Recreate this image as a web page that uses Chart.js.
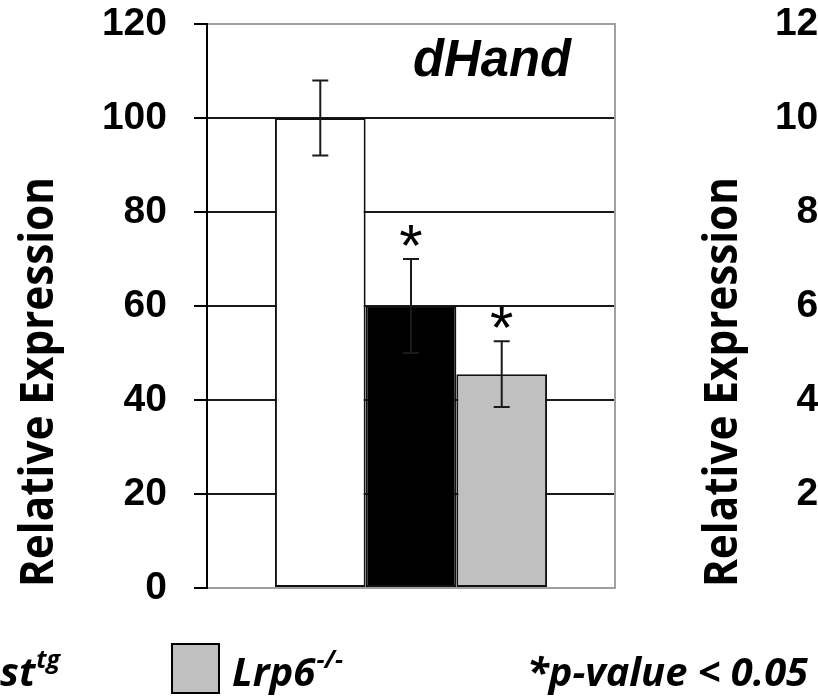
<!DOCTYPE html>
<html>
<head>
<meta charset="utf-8">
<script src="https://cdn.jsdelivr.net/npm/chart.js@4.4.1/dist/chart.umd.min.js"></script>
<style>
  html, body { margin: 0; padding: 0; background: #fff; overflow: hidden; width: 818px; height: 698px; }
  .wrap { position: absolute; top: 0; width: 818px; height: 698px; }
  #wrap-main { left: 0; }
  #wrap-next { left: 673px; }
</style>
</head>
<body>
<div class="wrap" id="wrap-main"><canvas id="chart-main"></canvas></div>
<div class="wrap" id="wrap-next"><canvas id="chart-next"></canvas></div>
<script>
// ===== data =====
const CATEGORIES = ["dHand"];
const SERIES_LABELS = ["Control", "st tg", "Lrp6-/-"];
const SERIES_COLORS = ["#ffffff", "#000000", "#c0c0c0"];
const MEANS = [100, 60, 45.5];
const ERRORS = [8, 10, 7];
const SIGNIFICANT = [false, true, true];
const Y_MIN = 0;
const Y_MAX = 120;
const Y_STEP = 20;
const Y_TITLE = "Relative Expression";
const GENE = "dHand";
const LEGEND_TEXT = ["st", "Lrp6"];
const LEGEND_SUP = ["tg", "-/-"];
const LEGEND_COLORS = ["#000000", "#c0c0c0"];
const NOTE = "*p-value < 0.05";

const NUM_FONT = "'Liberation Sans', Arial, sans-serif";
const CAL_FONT = "'Open Sans', 'Noto Sans', sans-serif";   // stand-in for Calibri

// 画一段文字，可横向压缩到给定宽度
function drawText(ctx, str, x, y, font, width, align) {
  ctx.save();
  ctx.font = font;
  const w = ctx.measureText(str).width;
  const sx = width ? width / w : 1;
  ctx.translate(x, y);
  ctx.scale(sx, 1);
  ctx.textAlign = align || "left";
  ctx.textBaseline = "alphabetic";
  ctx.fillStyle = "#000";
  ctx.fillText(str, 0, 0);
  ctx.restore();
  return w * sx;
}

// y axis title, rotated
const yTitlePlugin = {
  id: "yTitle",
  afterDraw(chart, args, opts) {
    const { ctx } = chart;
    ctx.save();
    ctx.translate(opts.x, opts.y);
    ctx.rotate(-Math.PI / 2);
    drawText(ctx, Y_TITLE, 0, 0, "bold 47px " + CAL_FONT, 410, "center");
    ctx.restore();
  },
};

// plot frame on the right side
const frameRight = {
  id: "frameRight",
  beforeDatasetsDraw(chart) {
    const { ctx, chartArea: a } = chart;
    ctx.save();
    ctx.strokeStyle = "#a0a0a0";
    ctx.lineWidth = 2;
    ctx.beginPath();
    ctx.moveTo(a.right, a.top - 1);
    ctx.lineTo(a.right, a.bottom + 1);
    ctx.stroke();
    ctx.restore();
  },
};

// error bars + asterisks + gene label + legend
const extras = {
  id: "extras",
  afterDatasetsDraw(chart) {
    const { ctx } = chart;
    const y = chart.scales.y;
    ctx.save();
    ctx.lineWidth = 2;
    MEANS.forEach((m, i) => {
      const bar = chart.getDatasetMeta(i).data[0];
      const top = y.getPixelForValue(m + ERRORS[i]);
      const bot = y.getPixelForValue(m - ERRORS[i]);
      ctx.strokeStyle = "#1a1a1a";
      ctx.beginPath();
      ctx.moveTo(bar.x, top); ctx.lineTo(bar.x, bot);
      ctx.moveTo(bar.x - 8, top); ctx.lineTo(bar.x + 8, top);
      ctx.moveTo(bar.x - 8, bot); ctx.lineTo(bar.x + 8, bot);
      ctx.stroke();
      if (SIGNIFICANT[i]) {
        ctx.font = "60px " + NUM_FONT;
        const mt = ctx.measureText("*");
        const cy = top - 24;
        const base = cy + (mt.actualBoundingBoxAscent - mt.actualBoundingBoxDescent) / 2;
        ctx.fillStyle = "#000";
        ctx.textAlign = "center";
        ctx.fillText("*", bar.x, base);
      }
    });
    ctx.restore();
  },
  afterDraw(chart) {
    const { ctx } = chart;
    drawText(ctx, GENE, 413, 76, "bold italic 51px " + NUM_FONT, 158, "left");

    // legend row
    const itemX = [-60, 172];
    LEGEND_TEXT.forEach((t, i) => {
      const bx = itemX[i];
      ctx.save();
      ctx.fillStyle = LEGEND_COLORS[i];
      ctx.strokeStyle = "#000";
      ctx.lineWidth = 2;
      ctx.fillRect(bx, 644, 47, 49);
      ctx.strokeRect(bx, 644, 47, 49);
      ctx.restore();
      const tx = bx + 60;
      const w = drawText(ctx, t, tx, 686, "bold italic 40px " + CAL_FONT, null, "left");
      drawText(ctx, LEGEND_SUP[i], tx + w + 1, 668, "bold italic 25px " + CAL_FONT, null, "left");
    });
    drawText(ctx, NOTE, 527, 686, "bold italic 40px " + CAL_FONT, 281, "left");
  },
};

function yScale() {
  return {
    min: Y_MIN,
    max: Y_MAX,
    afterFit(scale) {
      scale.width = 207;
      // ticks.padding 也会被算进上下留白，这里改回只留半个标签高
      scale.paddingTop = 24;
      scale.paddingBottom = 24;
    },
    ticks: {
      stepSize: Y_STEP,
      padding: 27,
      color: "#000",
      font: { family: NUM_FONT, size: 39, weight: "bold" },
    },
    grid: {
      color: (c) => (c.tick && (c.tick.value === Y_MAX || c.tick.value === Y_MIN)) ? "#a0a0a0" : "#1a1a1a",
      lineWidth: 2,
      tickLength: 13,
      tickColor: "#000",
      tickWidth: 2,
    },
    border: { color: "#000", width: 2 },
  };
}

function baseOptions(titleX) {
  return {
    animation: false,
    responsive: true,
    maintainAspectRatio: false,
    devicePixelRatio: 1,
    layout: { padding: { left: 0, top: 24, right: 203, bottom: 110 } },
    plugins: {
      legend: { display: false },
      tooltip: { enabled: false },
      yTitle: { x: titleX, y: 382 },
    },
    scales: {
      x: { display: false, grid: { display: false } },
      y: yScale(),
    },
  };
}

new Chart(document.getElementById("chart-main"), {
  type: "bar",
  data: {
    labels: CATEGORIES,
    datasets: MEANS.map((m, i) => ({
      label: SERIES_LABELS[i],
      data: [m],
      backgroundColor: SERIES_COLORS[i],
      borderColor: "#111",
      borderWidth: 2,
      borderSkipped: false,
      barPercentage: 1,
      categoryPercentage: 0.667,
    })),
  },
  options: baseOptions(53),
  plugins: [yTitlePlugin, frameRight, extras],
});

// 右侧被裁掉的下一张图：只露出 y 轴标题和刻度
new Chart(document.getElementById("chart-next"), {
  type: "bar",
  data: { labels: CATEGORIES, datasets: [] },
  options: baseOptions(64),
  plugins: [yTitlePlugin],
});
</script>
</body>
</html>
